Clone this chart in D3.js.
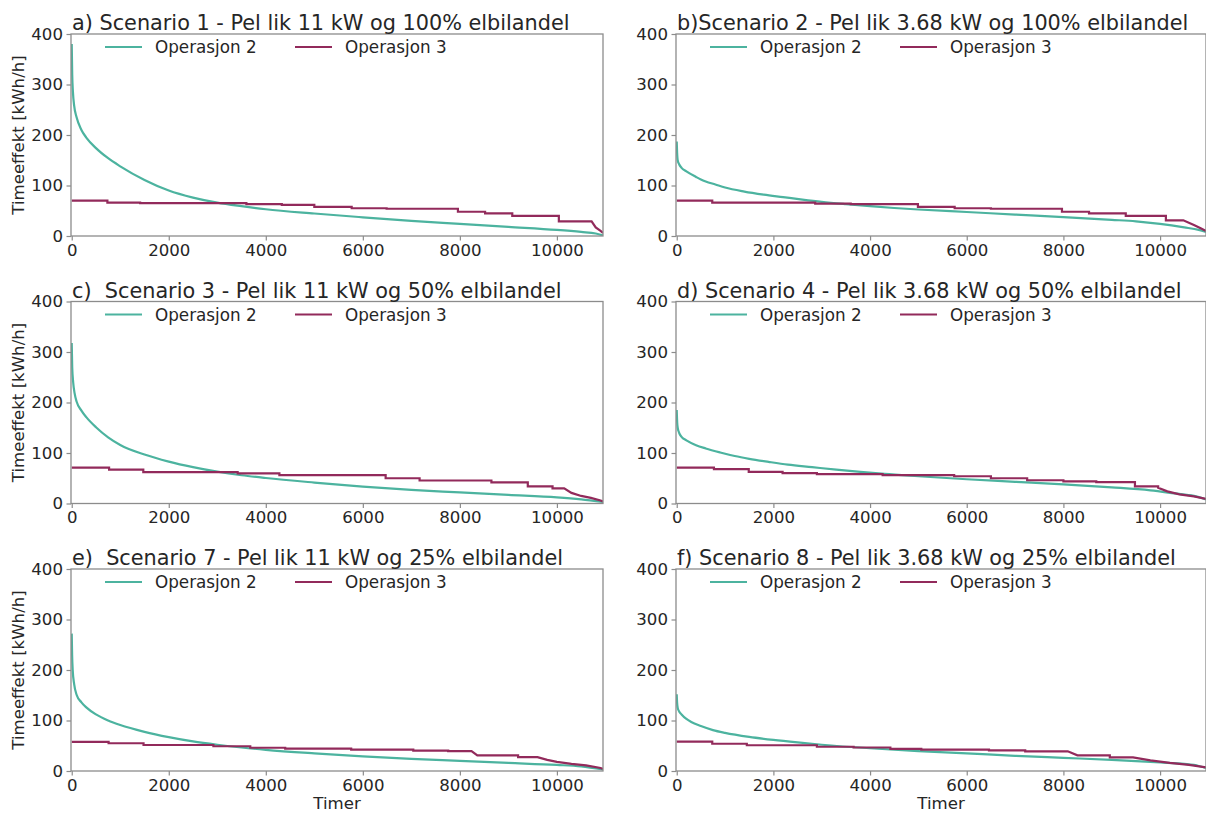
<!DOCTYPE html>
<html>
<head>
<meta charset="utf-8">
<script src="https://cdn.jsdelivr.net/npm/d3@7"></script>
<style>
  body { margin: 0; background: #fff; }
  text { font-family: "DejaVu Sans", sans-serif; fill: #262626; }
</style>
</head>
<body>
<svg id="chart"></svg>
<script>
// values: [hour, kWh/h]
let titles = [
  'a) Scenario 1 - Pel lik 11 kW og 100% elbilandel',
  'b)Scenario 2 - Pel lik 3.68 kW og 100% elbilandel',
  'c)  Scenario 3 - Pel lik 11 kW og 50% elbilandel',
  'd) Scenario 4 - Pel lik 3.68 kW og 50% elbilandel',
  'e)  Scenario 7 - Pel lik 11 kW og 25% elbilandel',
  'f) Scenario 8 - Pel lik 3.68 kW og 25% elbilandel'
];
let seriesNames = ['Operasjon 2', 'Operasjon 3'];
let xTicks = [0, 2000, 4000, 6000, 8000, 10000];
let yTicks = [0, 100, 200, 300, 400];

let op2_a = [[0,380],[10,320],[25,285],[50,258],[100,235],[200,210],[300,195],[500,174],[750,154],[1000,138],[1500,111],[2000,90],[2500,76],[3000,66],[3500,59],[4000,53],[5000,44.5],[6000,37],[7000,30],[8000,24],[9000,18],[10000,12],[10500,8],[10800,5],[10950,1]];
let op3_a = [[0,70],[735,70],[735,66],[1410,66],[1410,65],[3600,65],[3600,63],[4330,63],[4330,61.5],[5000,61.5],[5000,57.5],[5770,57.5],[5770,55],[6490,55],[6490,54],[7960,54],[7960,48],[8520,48],[8520,45],[9080,45],[9080,40],[10040,40],[10040,29],[10715,29],[10800,17],[10900,10],[10950,6]];

let op2_b = [[0,187],[8,165],[20,150],[50,142],[100,135],[200,128],[400,117],[500,112],[600,108],[800,102],[1000,96],[1400,88],[1800,82],[2200,77],[2600,72],[3000,67.5],[3500,63],[4000,59],[4500,55.5],[5000,52.5],[6000,47.5],[7000,42.5],[8000,37.5],[9000,32],[9500,29],[10000,24],[10500,17],[10800,12],[10950,8]];
let op3_b = [[0,70],[735,70],[735,66],[2865,66],[2865,64],[3600,64],[3600,63],[4990,63],[4990,57.5],[5750,57.5],[5750,55],[6500,55],[6500,54],[7970,54],[7970,48],[8530,48],[8530,45],[9290,45],[9290,40],[10120,40],[10120,31],[10480,31],[10700,22],[10850,15],[10950,10]];

let op2_c = [[0,318],[10,270],[30,240],[60,218],[100,202],[200,184],[300,171],[500,151],[750,131],[1000,116],[1500,97],[2000,83],[2500,72],[3000,63],[3500,56],[4000,50.5],[5000,41.5],[6000,33.5],[7000,27],[8000,22],[9000,17],[10000,12],[10500,8],[10950,3]];
let op3_c = [[0,71],[770,71],[770,67],[1475,67],[1475,62],[3420,62],[3420,59.5],[4280,59.5],[4280,56],[6470,56],[6470,50],[7170,50],[7170,45.5],[8650,45.5],[8650,42],[9400,42],[9400,34],[9910,34],[9910,30],[10150,30],[10300,21],[10500,15],[10700,11],[10900,6],[10950,4]];

let op2_d = [[0,185],[10,160],[20,150],[50,140],[100,132],[200,125],[400,115.5],[600,109],[900,101],[1200,94],[1500,88.5],[1900,82.5],[2300,77],[2800,72],[3300,67],[3800,62.5],[4300,58.5],[5000,54],[6000,48],[7000,43],[8000,38],[9000,32],[9800,26],[10300,20],[10700,15],[10950,8]];
let op3_d = [[0,71],[770,71],[770,68],[1490,68],[1490,62.5],[2190,62.5],[2190,60],[2900,60],[2900,58],[4260,58],[4260,56],[5740,56],[5740,54],[6500,54],[6500,50],[7250,50],[7250,46],[8000,46],[8000,44],[8680,44],[8680,42.5],[9480,42.5],[9480,34],[9960,34],[9960,31],[10150,24],[10400,18],[10700,14],[10950,9]];

let op2_e = [[0,272],[8,230],[20,200],[50,172],[100,151],[200,136],[300,126],[500,112],[750,100],[1000,91],[1500,77.5],[2000,67],[2500,58.5],[3000,52],[3500,46.5],[4000,42],[5000,35],[6000,29],[7000,24],[8000,20],[9000,16],[10000,12],[10500,9],[10950,3]];
let op3_e = [[0,57.5],[760,57.5],[760,55],[1480,55],[1480,51.5],[2920,51.5],[2920,49],[3680,49],[3680,46],[4400,46],[4400,44.5],[5760,44.5],[5760,42.5],[7040,42.5],[7040,40.5],[7760,40.5],[7760,39.5],[8240,39.5],[8360,31],[9200,31],[9200,27.5],[9600,27.5],[9800,22],[10000,18],[10300,14],[10600,11],[10900,6],[10950,4]];

let op2_f = [[0,152],[8,135],[20,125],[50,118],[100,112],[200,103],[300,97],[500,89],[750,81],[1000,75.5],[1500,67.5],[2000,61.5],[2500,56.5],[3000,52],[4000,45],[5000,39.5],[6000,35],[7000,30],[8000,26],[9000,22],[10000,17],[10500,14],[10800,10],[10950,6]];
let op3_f = [[0,58],[735,58],[735,54],[1450,54],[1450,51],[2900,51],[2900,48],[3660,48],[3660,46.5],[4420,46.5],[4420,44],[5060,44],[5060,42.5],[6460,42.5],[6460,41],[7210,41],[7210,39],[8090,39],[8290,31],[8960,31],[8960,27],[9440,27],[9800,21],[10200,16],[10600,12],[10950,7]];

let op2 = [op2_a, op2_b, op2_c, op2_d, op2_e, op2_f];
let op3 = [op3_a, op3_b, op3_c, op3_d, op3_e, op3_f];

let w = 1206;
let h = 814;
let colors = ['#4cb39f', '#922a5b'];
let lefts = [71, 676];
let widths = [532, 530];
let tops = [34, 301.5, 569];
let ph = 202;
let fontTick = '16.6px';

let svg = d3.select('#chart').attr('width', w).attr('height', h);

let drawPanel = (i) => {
  let col = i % 2, row = Math.floor(i / 2);
  let pw = widths[col];
  let g = svg.append('g').attr('transform', 'translate(' + lefts[col] + ',' + tops[row] + ')');

  let xScale = d3.scaleLinear().domain([-15, 10950]).range([0, pw]);
  let yScale = d3.scaleLinear().domain([0, 400]).range([ph, 0]);

  g.append('clipPath').attr('id', 'clip' + i)
    .append('rect').attr('width', pw).attr('height', ph);

  let line2 = d3.line().x(d => xScale(d[0])).y(d => yScale(d[1])).curve(d3.curveMonotoneX);
  let line3 = d3.line().x(d => xScale(d[0])).y(d => yScale(d[1]));

  let lines = g.append('g').attr('clip-path', 'url(#clip' + i + ')');
  lines.append('path').datum(op2[i])
    .attr('d', line2).attr('fill', 'none')
    .attr('stroke', colors[0]).attr('stroke-width', 2.2);
  lines.append('path').datum(op3[i])
    .attr('d', line3).attr('fill', 'none')
    .attr('stroke', colors[1]).attr('stroke-width', 2.2);

  let xAxis = d3.axisBottom(xScale).tickValues(xTicks).tickSize(4.5).tickPadding(3.5).tickFormat(d3.format('d'));
  let yAxis = d3.axisLeft(yScale).tickValues(yTicks).tickSize(4.5).tickPadding(3.5);

  let gx = g.append('g').attr('transform', 'translate(0,' + ph + ')').call(xAxis);
  let gy = g.append('g').call(yAxis);
  [gx, gy].forEach(a => {
    a.select('.domain').remove();
    a.selectAll('line').attr('stroke', '#8c8c8c').attr('stroke-width', 1.2);
    a.selectAll('text').style('font-size', fontTick).style('font-family', '"DejaVu Sans"').attr('fill', '#262626');
  });

  // frame
  g.append('rect').attr('width', pw).attr('height', ph)
    .attr('fill', 'none').attr('stroke', '#8c8c8c').attr('stroke-width', 1.3);

  // title
  g.append('text').attr('x', 1).attr('y', -4)
    .style('font-size', '20.8px').style('white-space', 'pre')
    .text(titles[i]);

  // legend
  let legendX = [34, 224];
  seriesNames.forEach((name, k) => {
    g.append('line')
      .attr('x1', legendX[k]).attr('x2', legendX[k] + 37)
      .attr('y1', 13).attr('y2', 13)
      .attr('stroke', colors[k]).attr('stroke-width', 2.2);
    g.append('text').attr('x', legendX[k] + 50).attr('y', 13).attr('dy', '0.36em')
      .style('font-size', '16.8px').text(name);
  });

  if (col === 0) {
    g.append('text')
      .attr('transform', 'translate(' + (-53) + ',' + (ph / 2) + ') rotate(-90)')
      .attr('text-anchor', 'middle').attr('dy', '0.36em')
      .style('font-size', fontTick).text('Timeeffekt [kWh/h]');
  }
  if (row === 2) {
    g.append('text').attr('x', pw / 2).attr('y', ph + 38)
      .attr('text-anchor', 'middle')
      .style('font-size', fontTick).text('Timer');
  }
};

for (let i = 0; i < 6; i++) drawPanel(i);
</script>
</body>
</html>
